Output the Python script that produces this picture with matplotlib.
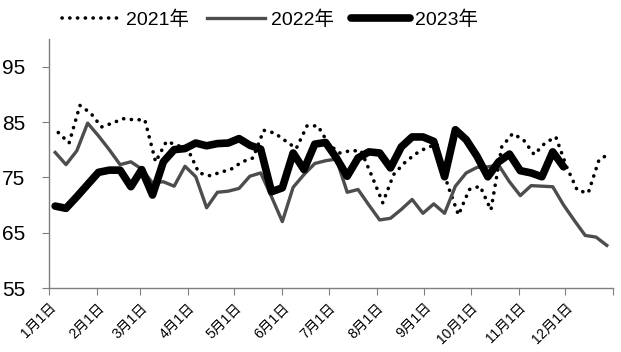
import numpy as np
import matplotlib
matplotlib.use("Agg")
import matplotlib.pyplot as plt

plt.rcParams["font.family"] = ["Liberation Sans", "Noto Sans CJK SC", "DejaVu Sans"]

# weekly values (x = day of year)
start_2021 = 6
start_2022 = 4
start_2023 = 4

v2021 = [83.1, 81.2, 88.0, 86.6, 84.1, 84.8, 85.6, 85.4, 85.4, 77.8,
         81.5, 80.8, 80.0, 75.8, 75.3, 75.9, 76.5, 77.8, 78.5, 83.5,
         83.0, 81.6, 80.2, 84.3, 84.3, 81.0, 79.4, 79.8, 79.8, 75.2,
         70.4, 75.5, 77.6, 79.2, 80.3, 81.0, 73.6, 68.2, 72.8, 73.4,
         69.1, 80.5, 82.9, 81.8, 79.1, 81.2, 82.3, 76.9, 72.6, 72.2,
         78.2, 79.3]

v2022 = [79.5, 77.3, 79.8, 84.8, 82.5, 80.0, 77.3, 77.8, 76.5, 74.0,
         74.2, 73.4, 77.0, 75.1, 69.5, 72.3, 72.5, 73.0, 75.2, 75.8,
         71.5, 67.0, 73.2, 75.5, 77.5, 78.0, 78.3, 72.3, 72.8, 70.0,
         67.3, 67.6, 69.2, 71.0, 68.5, 70.2, 68.5, 73.4, 75.8, 76.8,
         76.9, 77.2, 74.2, 71.7, 73.5, 73.4, 73.3, 70.0, 67.2, 64.5,
         64.2, 62.7]

v2023 = [69.8, 69.4, 71.5, 73.7, 75.9, 76.3, 76.3, 73.3, 76.4, 71.8,
         77.8, 80.0, 80.2, 81.2, 80.7, 81.1, 81.2, 82.0, 80.8, 80.1,
         72.4, 73.1, 79.4, 76.4, 81.0, 81.3, 78.5, 75.2, 78.5, 79.6,
         79.4, 76.7, 80.5, 82.3, 82.3, 81.5, 75.1, 83.6, 81.8, 78.8,
         75.1, 77.8, 79.2, 76.2, 75.8, 75.1, 79.6, 76.9]

month_days = [0, 31, 59, 90, 120, 151, 181, 212, 243, 273, 304, 334, 365]
month_labels = ["%d月1日" % m for m in range(1, 13)]

x2021 = start_2021 + 7 * np.arange(len(v2021))
x2022 = start_2022 + 7 * np.arange(len(v2022))
x2023 = start_2023 + 7 * np.arange(len(v2023))

fig = plt.figure(figsize=(6.21, 3.52), dpi=100)
ax = fig.add_axes([49 / 621, 64 / 352, 564 / 621, 249 / 352])

ax.plot(x2021, v2021, color="black", linewidth=2.6,
        linestyle=(0, (0.05, 2.1)), dash_capstyle="round", label="2021年")
ax.plot(x2022, v2022, color="#4d4d4d", linewidth=2.4, label="2022年")
ax.plot(x2023, v2023, color="black", linewidth=5.5,
        solid_joinstyle="round", solid_capstyle="round", label="2023年")

ax.set_xlim(0, 365)
ax.set_ylim(55, 100)
ax.set_yticks([55, 65, 75, 85, 95])
ax.set_xticks(month_days)
ax.set_xticklabels(month_labels + [""], rotation=45, ha="right",
                   va="top", rotation_mode="anchor", fontsize=10)

for s in ["top", "right"]:
    ax.spines[s].set_visible(False)
for s in ["left", "bottom"]:
    ax.spines[s].set_color("#7f7f7f")
    ax.spines[s].set_linewidth(1.0)

ax.tick_params(axis="y", direction="out", length=5, color="#7f7f7f",
               labelsize=15, pad=12)
ax.tick_params(axis="x", direction="out", length=5, color="#7f7f7f", pad=4)

leg = fig.legend(loc="upper center", bbox_to_anchor=(0.435, 1.02), ncol=3,
                 frameon=False, fontsize=14, handlelength=3.0,
                 handletextpad=0.3, columnspacing=0.9)

fig.savefig("out.png", dpi=100)
plt.close()
